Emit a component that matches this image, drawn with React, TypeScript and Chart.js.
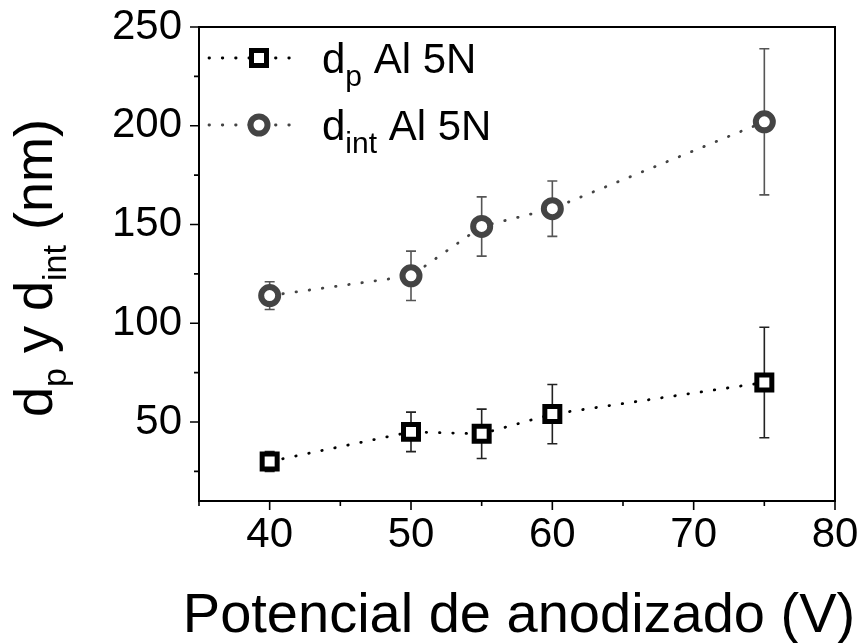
import { useEffect, useRef } from 'react';
import { Chart, registerables } from 'chart.js';

Chart.register(...registerables);

const voltages = [40, 50, 55, 60, 75];
const dpValues = [30, 45, 44, 54, 70];
const dpErrors = [5, 10, 12.5, 15, 28];
const dintValues = [114, 124, 149, 158, 202];
const dintErrors = [7, 12.5, 15, 14, 37];

const xMajorTicks = [40, 50, 60, 70, 80];
const xMinorTicks = [35, 45, 55, 65, 75];
const yMajorTicks = [50, 100, 150, 200, 250];
const yMinorTicks = [25, 75, 125, 175, 225];

const xTitle = 'Potencial de anodizado (V)';
const yTitleParts: [string, boolean][] = [
  ['d', false],
  ['p', true],
  [' y d', false],
  ['int', true],
  [' (nm)', false],
];
const legendDp: [string, boolean][] = [
  ['d', false],
  ['p', true],
  [' Al 5N', false],
];
const legendDint: [string, boolean][] = [
  ['d', false],
  ['int', true],
  [' Al 5N', false],
];

const FONT = '"Liberation Sans", Arial, Helvetica, sans-serif';
const DP_COLOR = '#000000';
const DINT_COLOR = '#444444';

function richWidth(ctx: CanvasRenderingContext2D, parts: [string, boolean][], main: number, sub: number) {
  let w = 0;
  for (const [t, s] of parts) {
    ctx.font = `${s ? sub : main}px ${FONT}`;
    w += ctx.measureText(t).width;
  }
  return w;
}

function drawRich(
  ctx: CanvasRenderingContext2D,
  parts: [string, boolean][],
  x: number,
  y: number,
  main: number,
  sub: number,
  shift: number
) {
  let cx = x;
  ctx.textAlign = 'left';
  ctx.textBaseline = 'alphabetic';
  for (const [t, s] of parts) {
    ctx.font = `${s ? sub : main}px ${FONT}`;
    ctx.fillText(t, cx, s ? y + shift : y);
    cx += ctx.measureText(t).width;
  }
}

function drawSquare(ctx: CanvasRenderingContext2D, x: number, y: number) {
  ctx.save();
  ctx.setLineDash([]);
  ctx.lineWidth = 5;
  ctx.strokeStyle = DP_COLOR;
  ctx.fillStyle = '#ffffff';
  ctx.beginPath();
  ctx.rect(x - 7.5, y - 7.5, 15, 15);
  ctx.fill();
  ctx.stroke();
  ctx.restore();
}

function drawRing(ctx: CanvasRenderingContext2D, x: number, y: number) {
  ctx.save();
  ctx.setLineDash([]);
  ctx.lineWidth = 6;
  ctx.strokeStyle = DINT_COLOR;
  ctx.fillStyle = '#ffffff';
  ctx.beginPath();
  ctx.arc(x, y, 8.5, 0, Math.PI * 2);
  ctx.fill();
  ctx.stroke();
  ctx.restore();
}

const decorPlugin = {
  id: 'decor',
  beforeDatasetsDraw(chart: any) {
    const ctx: CanvasRenderingContext2D = chart.ctx;
    const xs = chart.scales.x;
    const ys = chart.scales.y;
    const sets: [number[], number[], string][] = [
      [dpValues, dpErrors, '#222222'],
      [dintValues, dintErrors, '#555555'],
    ];
    ctx.save();
    ctx.lineWidth = 1.6;
    for (const [vals, errs, color] of sets) {
      ctx.strokeStyle = color;
      vals.forEach((v, i) => {
        const px = xs.getPixelForValue(voltages[i]);
        const top = ys.getPixelForValue(v + errs[i]);
        const bot = ys.getPixelForValue(v - errs[i]);
        ctx.beginPath();
        ctx.moveTo(px, top);
        ctx.lineTo(px, bot);
        ctx.moveTo(px - 5, top);
        ctx.lineTo(px + 5, top);
        ctx.moveTo(px - 5, bot);
        ctx.lineTo(px + 5, bot);
        ctx.stroke();
      });
    }
    ctx.restore();
  },
  afterDraw(chart: any) {
    const ctx: CanvasRenderingContext2D = chart.ctx;
    const { left, right, top, bottom } = chart.chartArea;
    const xs = chart.scales.x;
    const ys = chart.scales.y;
    ctx.save();
    // frame
    ctx.strokeStyle = '#000';
    ctx.lineWidth = 2;
    ctx.strokeRect(left, top, right - left, bottom - top);
    // ticks
    ctx.lineWidth = 1.6;
    ctx.beginPath();
    for (const v of xMajorTicks) {
      const p = xs.getPixelForValue(v);
      ctx.moveTo(p, bottom);
      ctx.lineTo(p, bottom + 9);
    }
    for (const v of xMinorTicks) {
      const p = xs.getPixelForValue(v);
      ctx.moveTo(p, bottom);
      ctx.lineTo(p, bottom + 5);
    }
    for (const v of yMajorTicks) {
      const p = ys.getPixelForValue(v);
      ctx.moveTo(left, p);
      ctx.lineTo(left - 9, p);
    }
    for (const v of yMinorTicks) {
      const p = ys.getPixelForValue(v);
      ctx.moveTo(left, p);
      ctx.lineTo(left - 5, p);
    }
    ctx.stroke();

    // legend
    ctx.fillStyle = '#000';
    const rows: [number, string, [string, boolean][], (c: CanvasRenderingContext2D, x: number, y: number) => void][] = [
      [58, DP_COLOR, legendDp, drawSquare],
      [125, DINT_COLOR, legendDint, drawRing],
    ];
    for (const [y, color, parts, marker] of rows) {
      ctx.save();
      ctx.strokeStyle = color;
      ctx.lineWidth = 2.8;
      ctx.lineCap = 'round';
      ctx.setLineDash([0.5, 12.8]);
      ctx.beginPath();
      ctx.moveTo(209, y);
      ctx.lineTo(300, y);
      ctx.stroke();
      ctx.restore();
      marker(ctx, 259, y);
      ctx.fillStyle = '#000';
      drawRich(ctx, parts, 322, y + 15, 42, 30, 13);
    }

    // x title
    ctx.fillStyle = '#000';
    ctx.font = `56px ${FONT}`;
    ctx.textAlign = 'center';
    ctx.textBaseline = 'alphabetic';
    ctx.fillText(xTitle, 519, 632);

    // y title
    const tw = richWidth(ctx, yTitleParts, 54, 34);
    ctx.save();
    ctx.translate(52, 268);
    ctx.rotate(-Math.PI / 2);
    drawRich(ctx, yTitleParts, -tw / 2, 0, 54, 34, 14);
    ctx.restore();

    ctx.restore();
  },
};

export default function App() {
  const ref = useRef<HTMLCanvasElement | null>(null);

  useEffect(() => {
    if (!ref.current) return;
    const chart = new Chart(ref.current, {
      type: 'line',
      data: {
        datasets: [
          {
            label: 'dp Al 5N',
            data: voltages.map((x, i) => ({ x, y: dpValues[i] })),
            borderColor: DP_COLOR,
            borderWidth: 2.8,
            borderDash: [0.5, 12.8],
            borderCapStyle: 'round',
            pointStyle: 'rect',
            pointRadius: 10.6,
            pointBorderWidth: 5,
            pointBackgroundColor: '#ffffff',
            pointBorderColor: DP_COLOR,
            fill: false,
            tension: 0,
          },
          {
            label: 'dint Al 5N',
            data: voltages.map((x, i) => ({ x, y: dintValues[i] })),
            borderColor: DINT_COLOR,
            borderWidth: 2.8,
            borderDash: [0.5, 12.8],
            borderCapStyle: 'round',
            pointStyle: 'circle',
            pointRadius: 8.5,
            pointBorderWidth: 6,
            pointBackgroundColor: '#ffffff',
            pointBorderColor: DINT_COLOR,
            fill: false,
            tension: 0,
          },
        ],
      },
      options: {
        responsive: false,
        animation: false,
        devicePixelRatio: 1,
        layout: { padding: { left: 0, right: 25, top: 27, bottom: 0 } },
        plugins: {
          legend: { display: false },
          tooltip: { enabled: false },
        },
        scales: {
          x: {
            type: 'linear',
            min: 35,
            max: 80,
            grid: { display: false, drawTicks: false },
            border: { display: false },
            afterBuildTicks: (scale: any) => {
              scale.ticks = xMajorTicks.map((v) => ({ value: v }));
            },
            afterFit: (scale: any) => {
              scale.height = 142;
              scale.paddingLeft = 0;
              scale.paddingRight = 0;
              scale.paddingTop = 0;
              scale.paddingBottom = 0;
            },
            ticks: {
              color: '#000',
              padding: 9,
              maxRotation: 0,
              autoSkip: false,
              font: { family: FONT, size: 42 },
            },
          },
          y: {
            type: 'linear',
            min: 10,
            max: 250,
            grid: { display: false, drawTicks: false },
            border: { display: false },
            afterBuildTicks: (scale: any) => {
              scale.ticks = yMajorTicks.map((v) => ({ value: v }));
            },
            afterFit: (scale: any) => {
              scale.width = 199;
              scale.paddingLeft = 0;
              scale.paddingRight = 0;
              scale.paddingTop = 0;
              scale.paddingBottom = 0;
            },
            ticks: {
              color: '#000',
              padding: 17,
              autoSkip: false,
              font: { family: FONT, size: 42 },
            },
          },
        },
      },
      plugins: [decorPlugin],
    } as any);
    return () => chart.destroy();
  }, []);

  return (
    <div style={{ position: 'absolute', left: 0, top: 0, width: 860, height: 643, background: '#fff' }}>
      <canvas ref={ref} width={860} height={643} style={{ display: 'block' }} />
    </div>
  );
}
